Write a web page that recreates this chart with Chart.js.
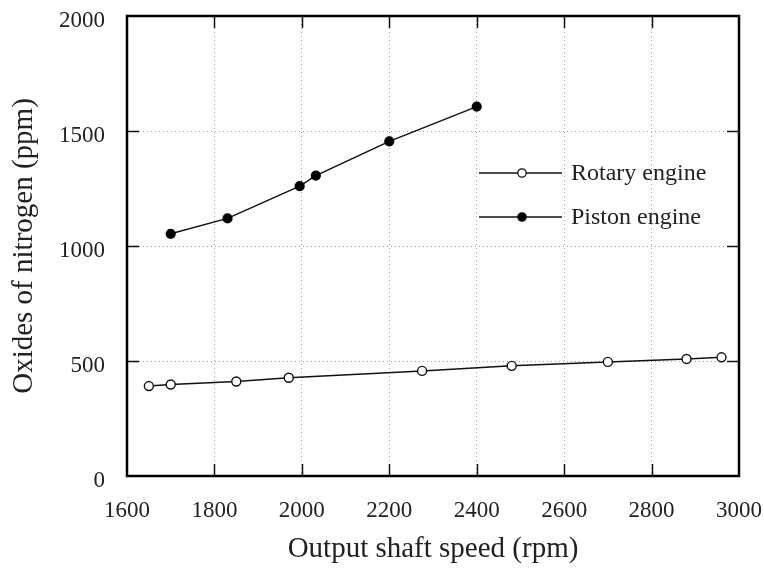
<!DOCTYPE html>
<html>
<head>
<meta charset="utf-8">
<script src="https://cdn.jsdelivr.net/npm/chart.js@4.4.0/dist/chart.umd.min.js"></script>
<style>
  html, body { margin: 0; padding: 0; background: #fff; }
  #wrap { width: 764px; height: 569px; position: relative; }
</style>
</head>
<body>
<div id="wrap"><canvas id="c" width="764" height="569"></canvas></div>
<script>
// ---- data ----
const rotarySpeed = [1650, 1700, 1850, 1970, 2275, 2480, 2700, 2880, 2960];
const rotaryNOx   = [391, 398, 411, 427, 457, 479, 496, 509, 516];
const pistonSpeed = [1700, 1830, 1995, 2032, 2200, 2400];
const pistonNOx   = [1053, 1120, 1260, 1306, 1455, 1606];
const xTicks = [1600, 1800, 2000, 2200, 2400, 2600, 2800, 3000];
const yTicks = [0, 500, 1000, 1500, 2000];
const seriesNames = ['Rotary engine', 'Piston engine'];
const xTitle = 'Output shaft speed (rpm)';
const yTitle = 'Oxides of nitrogen (ppm)';

const SERIF = "'Liberation Serif', 'DejaVu Serif', serif";

const toPts = (xs, ys) => xs.map((x, i) => ({ x: x, y: ys[i] }));

const framePlugin = {
  id: 'frame',
  afterDraw(chart) {
    const { ctx, chartArea: a, scales } = chart;
    ctx.save();
    ctx.strokeStyle = '#111';
    ctx.lineWidth = 1.5;
    ctx.setLineDash([]);
    const tl = 12;
    ctx.beginPath();
    xTicks.slice(1, -1).forEach(v => {
      const px = Math.round(scales.x.getPixelForValue(v)) + 0.5;
      ctx.moveTo(px, a.bottom); ctx.lineTo(px, a.bottom - tl);
      ctx.moveTo(px, a.top); ctx.lineTo(px, a.top + tl);
    });
    yTicks.slice(1, -1).forEach(v => {
      const py = Math.round(scales.y.getPixelForValue(v)) + 0.5;
      ctx.moveTo(a.left, py); ctx.lineTo(a.left + tl, py);
      ctx.moveTo(a.right, py); ctx.lineTo(a.right - tl, py);
    });
    ctx.stroke();
    ctx.lineWidth = 2.5;
    ctx.strokeStyle = '#000';
    ctx.strokeRect(a.left, a.top, a.right - a.left, a.bottom - a.top);

    // legend inside plot
    const lx0 = 479, lx1 = 562, mx = 522, tx = 571;
    const rows = [173, 217];
    ctx.font = '24px ' + SERIF;
    ctx.textBaseline = 'middle';
    ctx.textAlign = 'left';
    rows.forEach((y, i) => {
      ctx.lineWidth = 1.3;
      ctx.strokeStyle = '#111';
      ctx.beginPath();
      ctx.moveTo(lx0, y); ctx.lineTo(lx1, y);
      ctx.stroke();
      ctx.beginPath();
      ctx.arc(mx, y, 4.2, 0, Math.PI * 2);
      ctx.fillStyle = i === 0 ? '#fff' : '#000';
      ctx.fill();
      ctx.lineWidth = 1.3;
      ctx.stroke();
      ctx.fillStyle = '#222';
      ctx.fillText(seriesNames[i], tx, y + 1);
    });
    ctx.restore();
  }
};

new Chart(document.getElementById('c'), {
  type: 'scatter',
  data: {
    datasets: [
      {
        label: seriesNames[0],
        data: toPts(rotarySpeed, rotaryNOx),
        showLine: true,
        borderColor: '#111',
        borderWidth: 1.5,
        pointRadius: 4.5,
        pointBorderWidth: 1.4,
        pointBackgroundColor: '#fff',
        pointBorderColor: '#111',
        tension: 0
      },
      {
        label: seriesNames[1],
        data: toPts(pistonSpeed, pistonNOx),
        showLine: true,
        borderColor: '#111',
        borderWidth: 1.5,
        pointRadius: 4.5,
        pointBorderWidth: 1.2,
        pointBackgroundColor: '#000',
        pointBorderColor: '#000',
        tension: 0
      }
    ]
  },
  options: {
    responsive: false,
    animation: false,
    layout: { padding: { top: 16, right: 25, left: 0, bottom: 0 } },
    plugins: { legend: { display: false }, tooltip: { enabled: false } },
    scales: {
      x: {
        type: 'linear',
        min: 1600, max: 3000,
        afterBuildTicks: s => { s.ticks = xTicks.map(v => ({ value: v })); },
        afterFit: s => { s.height = 93; s.paddingLeft = 0; s.paddingRight = 0; },
        ticks: { font: { family: SERIF, size: 23 }, color: '#222', padding: 21, maxRotation: 0, callback: v => String(v) },
        grid: {
          drawTicks: false,
          color: ctx => (ctx.tick && (ctx.tick.value === 1600 || ctx.tick.value === 3000)) ? 'rgba(0,0,0,0)' : '#a0a0a0',
          lineWidth: 1
        },
        border: { display: false, dash: [1, 3] },
        title: { display: true, text: xTitle, font: { family: SERIF, size: 29 }, color: '#222', padding: { top: 0, bottom: 2 } }
      },
      y: {
        type: 'linear',
        min: 0, max: 2000,
        afterBuildTicks: s => { s.ticks = yTicks.map(v => ({ value: v })); },
        afterFit: s => { s.width = 127; s.paddingTop = 0; s.paddingBottom = 0; },
        ticks: { font: { family: SERIF, size: 23 }, color: '#222', padding: 22, labelOffset: 5, callback: v => String(v) },
        grid: {
          drawTicks: false,
          color: ctx => (ctx.tick && (ctx.tick.value === 0 || ctx.tick.value === 2000)) ? 'rgba(0,0,0,0)' : '#a0a0a0',
          lineWidth: 1
        },
        border: { display: false, dash: [1, 3] },
        title: { display: true, text: yTitle, font: { family: SERIF, size: 29 }, color: '#222', padding: { top: 7, bottom: 0 } }
      }
    }
  },
  plugins: [framePlugin]
});
</script>
</body>
</html>
